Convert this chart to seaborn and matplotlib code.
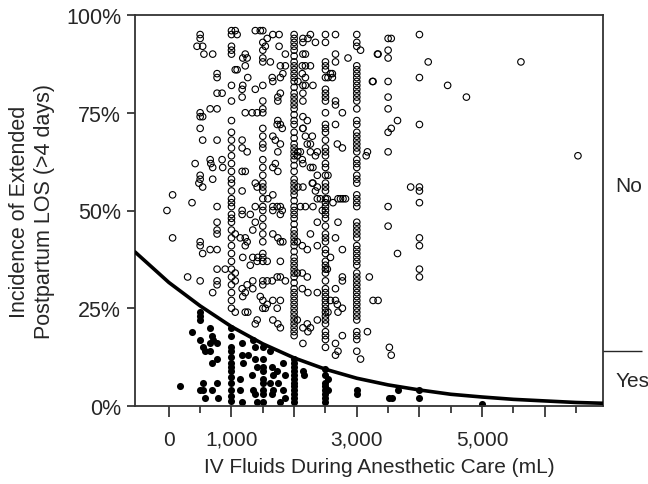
import numpy as np
import pandas as pd
import matplotlib
matplotlib.use("Agg")
import matplotlib.pyplot as plt
import seaborn as sns

# columns of points stacked at common fluid volumes (mL), incidence in %
col_x = [1000, 1500, 2000, 2500, 3000, 3500, 4000]
col_no = [
    [96, 95, 92, 91, 90, 82, 78, 73, 70, 68, 66, 64, 62, 60, 58, 57, 55, 53, 52, 51,
     49, 48, 47, 45, 43, 41, 39, 37, 35, 33, 31, 29, 27, 25],
    [96, 93, 91, 89, 88, 82, 78, 76, 75, 71, 69, 67, 66, 63, 61, 59, 57, 56, 55, 53,
     51, 50, 48, 46, 44, 42, 39, 38, 37, 32, 31, 27, 25],
    [95, 94, 93, 92, 91, 89.5, 88, 87, 86, 85, 84, 83, 81.5, 80, 79, 78, 77, 76, 74.5,
     73, 72, 70, 68.5, 67, 66, 65, 64, 63, 61.5, 60, 58, 57, 56, 55, 54, 52.5, 51, 50,
     49, 48, 46.5, 45, 44, 43, 42, 41, 39.5, 38, 37, 36, 35, 34, 33, 31.5, 30, 29, 28,
     27, 26, 25, 24, 23, 22, 21, 20, 19, 18],
    [95, 93, 88, 87, 86, 84, 81, 80, 79, 78, 75, 72, 71, 70, 68, 66, 65, 64, 62, 61,
     59, 57, 56, 55, 53, 52, 51, 50, 49, 48, 46, 44, 43, 42, 40, 39, 37, 36, 35, 34,
     32, 30, 29, 28, 27, 26, 25, 24, 23, 22, 21, 19, 18, 17, 15],
    [95, 93, 92, 87, 86, 85, 84, 83, 82, 81, 80, 79, 78, 76, 73, 72, 70, 69, 68, 67,
     66, 65, 63, 62, 61, 59, 58, 57, 54, 53, 52, 51, 47, 46, 45, 44, 43, 41, 40, 39,
     38, 37, 36, 34, 33, 32, 31, 30, 29, 28, 27, 26, 25, 24, 23, 22, 19, 18, 17, 14],
    [94, 91, 89, 83, 79, 76, 70, 65, 51, 46],
    [95, 84, 72, 56, 55, 52, 43, 41, 35, 33],
]
col_yes = [
    [20, 18, 15, 14, 12.5, 11, 10, 9, 7.5, 6, 4, 2.5, 1.3],
    [15, 12, 10, 9, 7, 6, 4, 3, 1],
    [12, 11, 10, 9, 8, 7, 6, 5, 4, 3, 2, 1],
    [9.5, 8, 6, 5, 4, 3, 2, 1],
    [4, 3],
    [],
    [4, 2],
]

# scattered "No" points (mL, %)
no_x = [500, 500, 450, 540, 560, 700, 770, 770, 770, 850, 660, 770, 500, 500, 540, 500, 540, 770,
        420, 660, 670, 700, 850, 860, 700, 500, 500, 480, 540, 60, 370, 770, -30, 60, 500, 500,
        540, 660, 770, 770, 900, 300, 500, 770, 770, 700, 770, 770, 770,
        1060, 1090, 1380, 1460, 1570, 1660, 1760, 1540, 1220, 1250, 1180, 1060, 1090, 1220, 1620,
        1760, 1860, 1780, 1860, 1820, 1780, 1650, 1660, 1260, 1180, 1170, 1380, 1170, 1410, 1330,
        1220, 1740, 1740, 1780, 2140, 2140, 2060, 2180, 2130, 2140, 2140, 2180, 2130, 1740, 1780,
        1730, 1810, 1660, 1700, 1780, 1740, 1700, 1740, 1660, 1170, 1170, 1250, 1170, 1220, 1380,
        1410, 1580, 1660, 1660, 1730, 1780, 1810, 1170, 1170, 1380, 2060, 2050, 2140, 2180, 2130,
        2060, 2140, 2180, 2100,
        1170, 1300, 1660, 1780, 1380, 1340, 1060, 1140, 1220, 1250, 1220, 1660, 1740, 1780, 1820,
        1340, 1420, 1410, 1570, 1300, 1180, 1780, 1730, 1780, 1860, 1060, 1060, 1570, 1650, 1250,
        1340, 1340, 1170, 1220, 1180, 1460, 1540, 1570, 1660, 1780, 1730, 1220, 1260, 1410, 1380,
        1060, 1660, 1740, 1780, 2050, 2130, 2210, 2050, 2130, 2210, 2130, 2220, 2050, 2210, 2140,
        2220, 2140,
        2140, 2220, 2260, 2340, 2660, 3060, 3340, 3550, 4140, 4450, 3260, 3650, 3550, 3150, 3860,
        2660, 2660, 2860, 2770, 2660, 2660, 2660, 2770, 2690, 2340, 2260, 2210, 2260, 2370, 2300,
        2340, 2540, 2530, 2620, 2740, 2780, 2370, 2180, 2260, 2300, 2180, 2140, 2610, 2540, 2140,
        2140, 2210, 2100, 2140, 2580, 2610, 2290, 2260, 2370, 2300, 2290, 2370, 2420, 2700, 2820,
        2300, 2450, 3170, 3250, 3330, 4750, 5620, 6530,
        2370, 2260, 2370, 2370, 2260, 2370, 2700, 2660, 2770, 2580, 2530, 2660, 2770, 2770, 2580,
        2660, 2690, 2770, 2700, 2540, 2770, 2660, 2700, 2660, 3060, 3170, 3200, 3260, 3340, 3650,
        3550, 3520]
no_y = [95, 94, 92, 92, 90, 90, 85, 84, 80, 80, 76, 76, 75, 74, 74, 71, 68, 68,
        62, 63, 62, 61, 63, 61, 58, 59, 58, 57, 56, 54, 52, 51, 50, 43, 42, 41,
        39, 40, 40, 35, 35, 33, 32, 32, 31, 29, 47, 45, 44,
        96, 95, 96, 96, 94, 95, 95, 92, 90, 89, 89, 86, 86, 87, 88,
        92, 90, 87, 87, 85, 84, 84, 83, 84, 82, 81, 81, 79, 75, 75,
        75, 79, 78, 80, 80, 82, 83, 84, 85, 94, 90, 90, 87, 73, 72,
        72, 71, 69, 68, 67, 65, 62, 60, 61, 68, 66, 65, 60, 60, 57,
        56, 53, 54, 51, 51, 51, 50, 55, 50, 51, 65, 64, 71, 69, 63,
        56, 56, 51, 51,
        49, 49, 50, 49, 47, 45, 44, 43, 43, 42, 41, 44, 43, 42, 42,
        38, 38, 37, 37, 36, 38, 37, 33, 33, 32, 34, 32, 32, 32, 31,
        32, 30, 30, 29, 28, 28, 25, 26, 27, 27, 25, 24, 24, 22, 21,
        24, 22, 21, 20, 42, 41, 40, 34, 34, 33, 30, 29, 22, 21, 20,
        19, 16,
        93, 94, 95, 93, 95, 91, 90, 94, 88, 82, 83, 73, 71, 64, 56,
        90, 88, 89, 75, 72, 78, 77, 66, 67, 64, 65, 67, 61, 59, 57,
        55, 59, 53, 52, 53, 53, 53, 87, 87, 82, 82, 78, 84, 84, 74,
        71, 73, 65, 62, 85, 85, 69, 67, 65, 61, 57, 56, 53, 53, 53,
        51, 50, 65, 83, 90, 79, 88, 64,
        47, 44, 41, 29, 20, 22, 47, 43, 40, 38, 35, 30, 33, 32, 27,
        27, 26, 25, 24, 24, 18, 16, 14, 13, 12, 19, 33, 27, 27, 39,
        13, 15]

# scattered "Yes" points (mL, %)
yes_x = [500, 500, 500, 370, 660, 500, 690, 700, 660, 540, 580, 770, 660, 690, 770, 180, 540,
         540, 500, 580, 690, 770, 780,
         1170, 1170, 1180, 1140, 1140, 1170, 1260, 1340, 1380, 1380, 1410, 1330, 1340, 1380, 1410,
         1620, 1650, 1660, 1620, 1660, 1650, 1730, 1740, 1780, 1820, 1860, 1820, 1860, 2140,
         2540, 2540, 3520, 2160, 3570, 3650, 5000]
yes_y = [24, 23, 22, 19, 20, 17, 18, 17, 16, 15, 14, 16, 14, 11, 12, 5, 6,
         4, 4, 2, 4, 6, 2,
         16, 13, 11, 7, 4, 1, 13, 17, 15, 12, 10, 8, 4, 3, 1,
         14, 10, 8, 6, 4, 3, 9, 6, 1, 11, 8, 4, 2, 9,
         7, 4, 2, 8, 2, 4, 0.5]

# logistic fit curve
fit_x = [-540, 0, 500, 1000, 1500, 2000, 2500, 3000, 3500, 4000, 4500, 5000, 5500, 6000, 6500, 6930]
fit_y = [39.4, 31.6, 25.6, 20.3, 15.9, 12.3, 9.4, 7.1, 5.4, 4.1, 3.0, 2.3, 1.7, 1.3, 0.9, 0.7]

yes_share = 14

rows = []
for cx, ys in zip(col_x, col_no):
    rows += [(cx, y, "No") for y in ys]
for cx, ys in zip(col_x, col_yes):
    rows += [(cx, y, "Yes") for y in ys]
rows += [(x, y, "No") for x, y in zip(no_x, no_y)]
rows += [(x, y, "Yes") for x, y in zip(yes_x, yes_y)]
df = pd.DataFrame(rows, columns=["fluids", "pct", "los"])

sns.set_style("white")
plt.rcParams["font.family"] = ["Liberation Sans", "DejaVu Sans"]

fig = plt.figure(figsize=(6.48, 4.85), dpi=100)
ax = fig.add_axes([135 / 648, 78 / 485, 468 / 648, 391 / 485])

no = df[df["los"] == "No"]
yes = df[df["los"] == "Yes"]
sns.scatterplot(x=no["fluids"], y=no["pct"], ax=ax, s=22, fc="none", ec="black",
                linewidth=0.8, zorder=2)
sns.scatterplot(x=yes["fluids"], y=yes["pct"], ax=ax, s=26, color="black",
                linewidth=0, zorder=2)
sns.lineplot(x=fit_x, y=fit_y, ax=ax, color="black", linewidth=2.6, zorder=3)

ax.set_xlim(-540, 6930)
ax.set_ylim(0, 100)
ax.set_xticks([0, 1000, 2000, 3000, 4000, 5000, 6000])
ax.set_xticklabels(["0", "1,000", "", "3,000", "", "5,000", ""])
ax.set_xticks([500, 1500, 2500, 3500, 4500, 5500, 6500], minor=True)
ax.set_yticks([0, 25, 50, 75, 100])
ax.set_yticklabels(["0%", "25%", "50%", "75%", "100%"])
ax.tick_params(axis="x", which="major", direction="out", length=8, width=1.2,
               pad=9, labelsize=15, bottom=True)
ax.tick_params(axis="x", which="minor", direction="out", length=5, width=1.2, bottom=True)
ax.tick_params(axis="y", direction="out", length=6, width=1.2, pad=4, labelsize=15.5, left=True)
for sp in ax.spines.values():
    sp.set_color("#333333")
    sp.set_linewidth(1.3)

ax.set_xlabel("IV Fluids During Anesthetic Care (mL)", fontsize=15)
ax.xaxis.set_label_coords(0.523, -0.13)
ax.set_ylabel("Incidence of Extended\nPostpartum LOS (>4 days)", fontsize=15.5,
              labelpad=8, linespacing=1.25)

ax2 = ax.twinx()
ax2.set_ylim(0, 100)
ax2.set_yticks([yes_share])
ax2.set_yticklabels([""])
ax2.set_yticks([yes_share / 2, (100 + yes_share) / 2], minor=True)
ax2.set_yticklabels(["Yes", "No"], minor=True)
ax2.tick_params(axis="y", which="major", direction="out", length=28, width=1.0, right=True)
ax2.tick_params(axis="y", which="minor", length=0, pad=9, labelsize=15, right=True)
for sp in ax2.spines.values():
    sp.set_visible(False)

fig.savefig("out.png", dpi=100)
